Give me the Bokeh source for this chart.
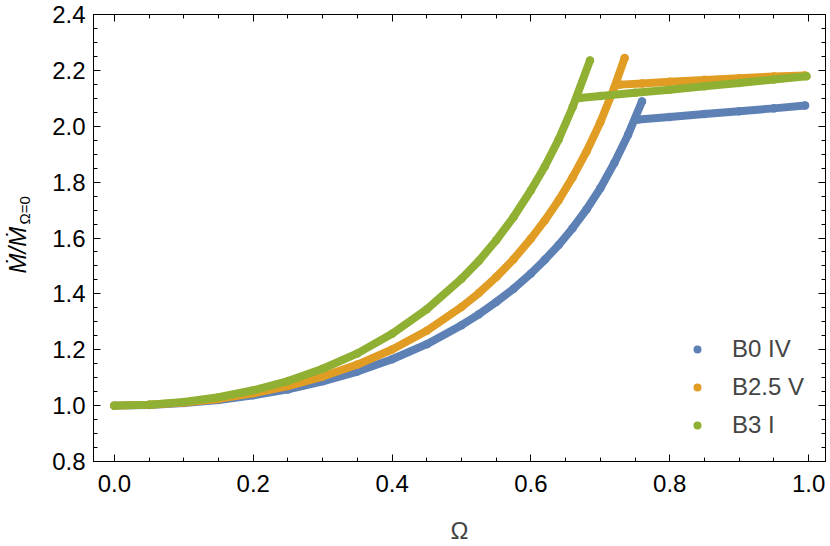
from bokeh.plotting import figure
from bokeh.models import Range1d, LinearAxis, Legend, LegendItem, FixedTicker, Title
from bokeh.embed import file_html
from bokeh.resources import INLINE

# ---- data ----
omega_b0_rise = [0.0, 0.05, 0.1, 0.15, 0.2, 0.25, 0.3, 0.35, 0.4, 0.45, 0.5, 0.525,
                 0.55, 0.575, 0.6, 0.62, 0.64, 0.66, 0.68, 0.7, 0.72, 0.74, 0.76]
mdot_b0_rise = [1.000, 1.002, 1.009, 1.020, 1.037, 1.058, 1.087, 1.122, 1.166, 1.220, 1.288, 1.327,
                1.371, 1.418, 1.473, 1.522, 1.575, 1.635, 1.702, 1.778, 1.868, 1.970, 2.089]
omega_b0_branch = [0.755, 0.80, 0.85, 0.90, 0.95, 0.995]
mdot_b0_branch = [2.024, 2.033, 2.044, 2.054, 2.064, 2.074]

omega_b25_rise = [0.0, 0.05, 0.1, 0.15, 0.2, 0.25, 0.3, 0.35, 0.4, 0.45, 0.5, 0.525,
                  0.55, 0.575, 0.6, 0.62, 0.64, 0.66, 0.68, 0.7, 0.72, 0.735]
mdot_b25_rise = [1.000, 1.003, 1.011, 1.024, 1.044, 1.070, 1.104, 1.147, 1.201, 1.268, 1.353, 1.403,
                 1.460, 1.524, 1.598, 1.663, 1.735, 1.817, 1.909, 2.014, 2.138, 2.244]
omega_b25_branch = [0.728, 0.76, 0.80, 0.85, 0.90, 0.95, 0.995]
mdot_b25_branch = [2.149, 2.153, 2.159, 2.166, 2.172, 2.178, 2.182]

omega_b3_rise = [0.0, 0.05, 0.1, 0.15, 0.2, 0.25, 0.3, 0.35, 0.4, 0.45, 0.5, 0.525,
                 0.55, 0.575, 0.6, 0.62, 0.64, 0.66, 0.685]
mdot_b3_rise = [1.000, 1.003, 1.013, 1.030, 1.055, 1.088, 1.132, 1.187, 1.257, 1.345, 1.454, 1.518,
                1.592, 1.675, 1.771, 1.856, 1.953, 2.068, 2.235]
omega_b3_branch = [0.667, 0.70, 0.75, 0.80, 0.85, 0.90, 0.95, 0.997]
mdot_b3_branch = [2.100, 2.108, 2.120, 2.131, 2.143, 2.155, 2.167, 2.179]

series_names = ["B0 IV", "B2.5 V", "B3 I"]
series_colors = ["#5E81B5", "#E19C24", "#8FB032"]

x_ticks = [0.0, 0.2, 0.4, 0.6, 0.8, 1.0]
x_tick_labels = ["0.0", "0.2", "0.4", "0.6", "0.8", "1.0"]
x_minor = [-0.05 + 0.05 * i for i in range(23)]
y_ticks = [0.8, 1.0, 1.2, 1.4, 1.6, 1.8, 2.0, 2.2, 2.4]
y_tick_labels = ["0.8", "1.0", "1.2", "1.4", "1.6", "1.8", "2.0", "2.2", "2.4"]
y_minor = [0.8 + 0.05 * i for i in range(33)]

FONT = "Liberation Sans"

p = figure(width=830, height=546, output_backend="svg", toolbar_location=None,
           x_range=Range1d(-0.0302, 1.0244), y_range=Range1d(0.8, 2.4),
           min_border_left=91, min_border_right=5, min_border_top=14, min_border_bottom=80,
           x_axis_label="Ω")
p.xgrid.visible = False
p.ygrid.visible = False
p.outline_line_color = "black"
p.outline_line_width = 1
p.background_fill_color = "white"
p.border_fill_color = "white"

def style_axis(ax, ticks, labels, minor, show_labels=True):
    ax.ticker = FixedTicker(ticks=ticks, minor_ticks=minor)
    ax.major_tick_in = 7
    ax.major_tick_out = 0
    ax.minor_tick_in = 4
    ax.minor_tick_out = 0
    ax.axis_line_color = "black"
    ax.major_tick_line_color = "black"
    ax.minor_tick_line_color = "black"
    ax.major_label_text_font = FONT
    ax.major_label_text_color = "black"
    if show_labels:
        ax.major_label_overrides = {t: l for t, l in zip(ticks, labels)}
        ax.major_label_text_font_size = "24px"
    else:
        ax.major_label_overrides = {t: "" for t in ticks}
        ax.major_label_text_font_size = "1px"
        ax.major_label_standoff = 0

style_axis(p.xaxis[0], x_ticks, x_tick_labels, x_minor)
style_axis(p.yaxis[0], y_ticks, y_tick_labels, y_minor)
p.xaxis[0].major_label_standoff = 13
p.yaxis[0].major_label_standoff = 8
p.xaxis[0].axis_label_text_font = FONT
p.xaxis[0].axis_label_text_font_size = "24px"
p.xaxis[0].axis_label_text_font_style = "normal"
p.xaxis[0].axis_label_standoff = 22

top = LinearAxis()
style_axis(top, x_ticks, x_tick_labels, x_minor, show_labels=False)
p.add_layout(top, "above")
right = LinearAxis()
style_axis(right, y_ticks, y_tick_labels, y_minor, show_labels=False)
p.add_layout(right, "right")

data = [
    (omega_b0_rise, mdot_b0_rise, omega_b0_branch, mdot_b0_branch),
    (omega_b25_rise, mdot_b25_rise, omega_b25_branch, mdot_b25_branch),
    (omega_b3_rise, mdot_b3_rise, omega_b3_branch, mdot_b3_branch),
]
items = []
for (xr, yr, xb, yb), name, col in zip(data, series_names, series_colors):
    p.line(xr, yr, line_color=col, line_width=8, line_cap="round", line_join="round")
    p.line(xb, yb, line_color=col, line_width=8, line_cap="round", line_join="round")
    r = p.scatter(xr, yr, size=8.5, fill_color=col, line_color=None)
    p.scatter(xb, yb, size=8.5, fill_color=col, line_color=None)
    items.append(LegendItem(label=name, renderers=[r]))

legend = Legend(items=items, location=(594, 17), padding=0, margin=0, spacing=0,
                label_height=38, glyph_height=38, glyph_width=20, label_standoff=25,
                label_text_font=FONT, label_text_font_size="24px",
                background_fill_alpha=0, border_line_color=None)
p.add_layout(legend, "center")

# y-axis title: subscript (inner) and main part (outer)
sub_title = Title(text="Ω=0", align="left", offset=237, standoff=30, vertical_align="top",
                  text_font=FONT, text_font_size="15px", text_font_style="normal",
                  text_color="black")
main_title = Title(text="Ṁ/Ṁ", align="left", offset=188, standoff=-60, vertical_align="bottom",
                   text_font=FONT, text_font_size="24px", text_font_style="italic",
                   text_color="black")
p.add_layout(sub_title, "left")
p.add_layout(main_title, "left")

open("out.html", "w").write(file_html(p, INLINE))
